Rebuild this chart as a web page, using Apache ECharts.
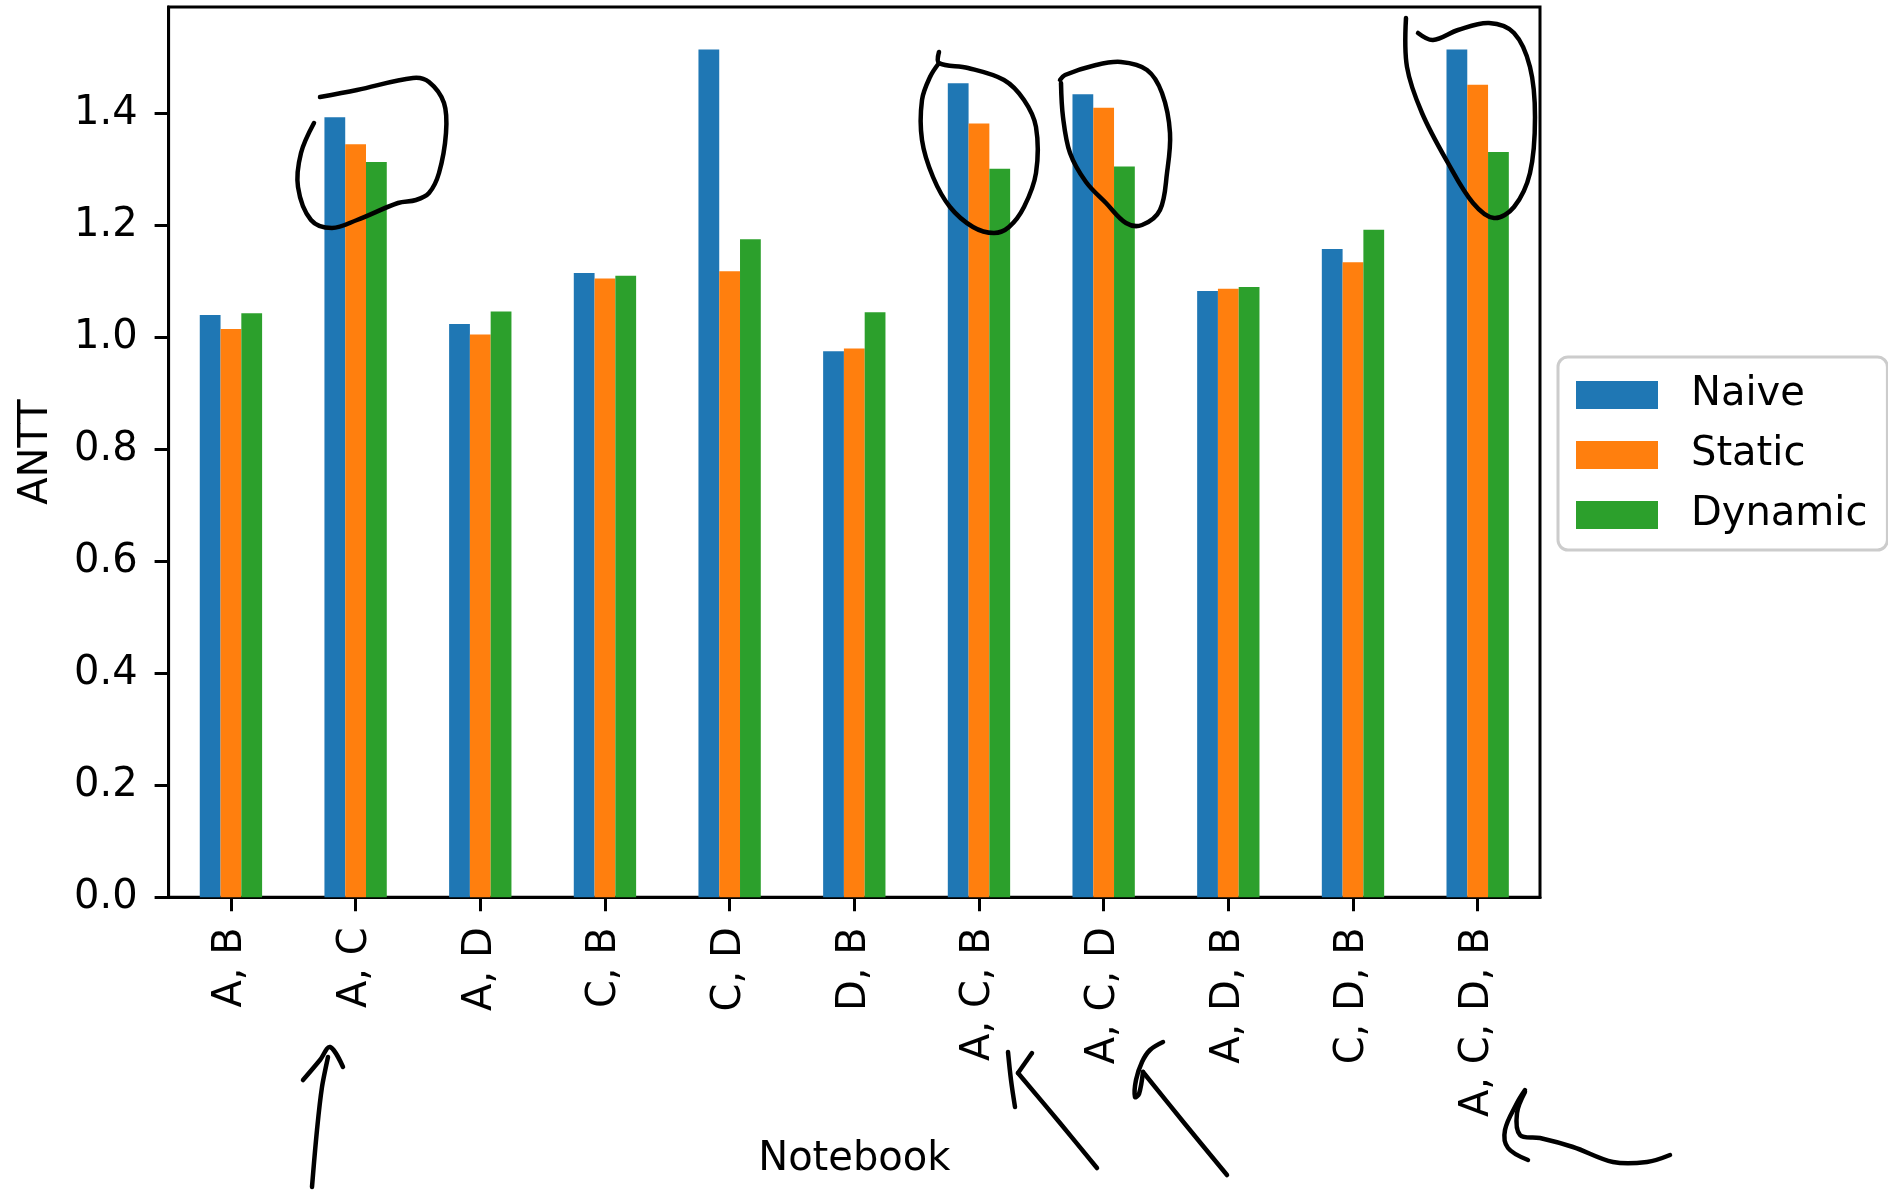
<!DOCTYPE html>
<html>
<head>
<meta charset="utf-8">
<script src="https://cdn.jsdelivr.net/npm/echarts@6/dist/echarts.min.js"></script>
<style>
html,body{margin:0;padding:0;background:#fff;}
#chart{width:1888px;height:1192px;}
</style>
</head>
<body>
<div id="chart"></div>
<script>
const categories = ['A, B','A, C','A, D','C, B','C, D','D, B','A, C, B','A, C, D','A, D, B','C, D, B','A, C, D, B'];
const naive   = [1.040,1.393,1.024,1.115,1.514,0.975,1.454,1.434,1.083,1.158,1.514];
const staticV = [1.015,1.345,1.005,1.105,1.118,0.980,1.382,1.410,1.087,1.134,1.451];
const dynamic = [1.043,1.313,1.046,1.110,1.175,1.045,1.301,1.305,1.090,1.192,1.331];
const seriesNames = ['Naive','Static','Dynamic'];
const yTicks = [0,0.2,0.4,0.6,0.8,1.0,1.2,1.4];
const yMax = 1.59;

// hand-drawn annotation strokes (overlay, not data)
const inkStrokes = [
  // loop around "A, C"
  [[320,97],[357,90],[413,78],[429,82],[444,103],[446,133],[439,173],[429,193],[416,200],[398,203],[357,220],[332,228],[311,220],[298,187],[301,153],[314,123]],
  // loop around "A, C, B"
  [[939,52],[939,63],[968,68],[1004,80],[1024,100],[1036,127],[1036,173],[1024,207],[1009,227],[994,233],[973,227],[950,207],[933,177],[922,140],[922,100],[930,77],[939,63]],
  // loop around "A, C, D"
  [[1060,80],[1065,75],[1096,65],[1121,62],[1147,70],[1162,93],[1170,133],[1167,173],[1160,210],[1142,225],[1126,223],[1106,203],[1086,182],[1070,153],[1063,117],[1061,83]],
  // loop around "A, C, D, B"
  [[1406,18],[1407,67],[1422,113],[1448,163],[1473,203],[1494,218],[1514,207],[1530,173],[1535,117],[1530,67],[1514,33],[1489,23],[1458,30],[1433,40],[1418,33]],
  // arrow 1
  [[312,1187],[317,1130],[322,1087],[328,1057]],
  [[303,1080],[320,1060],[330,1047],[343,1067]],
  // arrow 2
  [[1097,1168],[1060,1123],[1018,1073]],
  [[1008,1052],[1011,1080],[1015,1107]],
  [[1018,1073],[1032,1053]],
  // arrow 3
  [[1163,1042],[1150,1050],[1142,1062],[1136,1080],[1135,1097],[1139,1094],[1143,1072]],
  [[1143,1072],[1185,1124],[1227,1175]],
  // arrow 4
  [[1525,1090],[1517,1103],[1505,1130],[1508,1148],[1528,1160]],
  [[1525,1092],[1517,1113],[1520,1135],[1540,1138],[1573,1147],[1613,1162],[1647,1162],[1670,1155]]
];

const FONT = 'DejaVu Sans';
const chart = echarts.init(document.getElementById('chart'), null, {renderer:'canvas'});
const colors = ['#1f77b4','#ff7f0e','#2ca02c'];
const seriesData = [naive, staticV, dynamic];

chart.setOption({
  animation:false,
  backgroundColor:'#fff',
  textStyle:{fontFamily:FONT,color:'#000'},
  color:colors,
  grid:{left:168.6,right:348,top:7,bottom:294.7,show:true,borderColor:'#000',borderWidth:3,backgroundColor:'transparent',containLabel:false},
  legend:{
    orient:'vertical',left:1558,top:357,
    itemWidth:82,itemHeight:28,itemGap:20,
    padding:[18,20,15,18],
    backgroundColor:'#fff',borderColor:'#cccccc',borderWidth:3,borderRadius:10,
    textStyle:{fontFamily:FONT,fontSize:40,color:'#000',padding:[0,0,0,28]},
    icon:'rect',
    data:seriesNames
  },
  xAxis:{
    type:'category',data:categories,
    name:'Notebook',nameLocation:'middle',nameGap:242,
    nameTextStyle:{fontFamily:FONT,fontSize:40,color:'#000'},
    axisLine:{show:true,lineStyle:{color:'#000',width:3}},
    axisTick:{show:true,alignWithLabel:true,length:14,lineStyle:{color:'#000',width:3}},
    axisLabel:{rotate:90,fontFamily:FONT,fontSize:40,color:'#000',margin:30,interval:0},
    splitLine:{show:false}
  },
  yAxis:{
    type:'value',min:0,max:yMax,
    name:'ANTT',nameLocation:'middle',nameGap:112,nameRotate:90,
    nameTextStyle:{fontFamily:FONT,fontSize:40,color:'#000'},
    axisLine:{show:true,lineStyle:{color:'#000',width:3}},
    axisTick:{show:true,length:14,lineStyle:{color:'#000',width:3},customValues:yTicks},
    axisLabel:{fontFamily:FONT,fontSize:40,color:'#000',margin:31,customValues:yTicks,formatter:v=>v.toFixed(1)},
    splitLine:{show:false}
  },
  series:seriesNames.map((n,i)=>({
    name:n,type:'bar',data:seriesData[i],
    barGap:'0%',barCategoryGap:'50%',
    itemStyle:{color:colors[i]}
  })),
  graphic:inkStrokes.map(pts=>({
    type:'polyline',z:100,silent:true,
    shape:{points:pts,smooth:0.35},
    style:{stroke:'#000',lineWidth:4.5,fill:null,lineCap:'round',lineJoin:'round'}
  }))
});
</script>
</body>
</html>
